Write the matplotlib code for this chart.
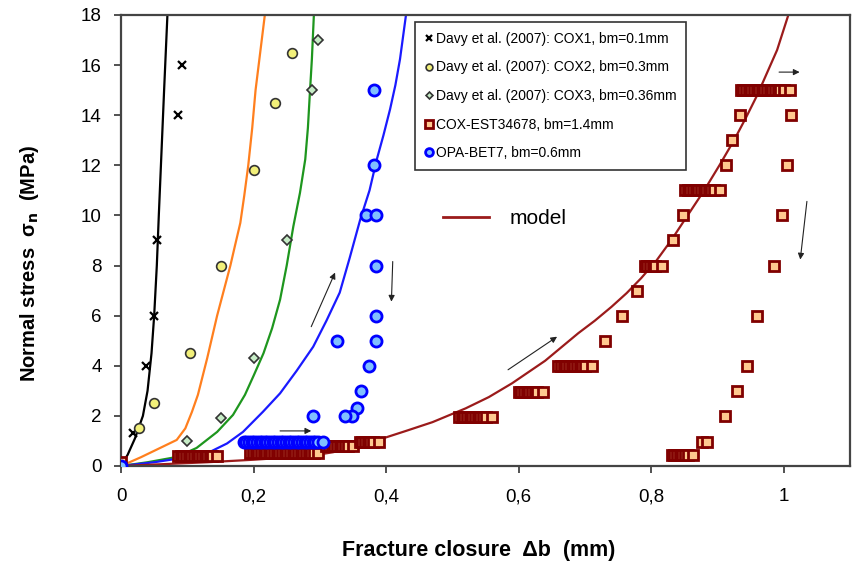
import matplotlib.pyplot as plt
from matplotlib.lines import Line2D

plt.rcParams['font.family'] = ['Liberation Sans', 'DejaVu Sans']

# Davy et al. (2007) experimental points
cox1_x = [0.018, 0.038, 0.050, 0.054, 0.086, 0.092]
cox1_y = [1.3, 4.0, 6.0, 9.0, 14.0, 16.0]
cox2_x = [0.027, 0.050, 0.104, 0.151, 0.200, 0.232, 0.258]
cox2_y = [1.5, 2.5, 4.5, 8.0, 11.8, 14.5, 16.5]
cox3_x = [0.100, 0.151, 0.200, 0.250, 0.288, 0.297]
cox3_y = [1.0, 1.9, 4.3, 9.0, 15.0, 17.0]

# COX-EST34678 (loading with creep steps, then unloading)
est_x = [0.0,
         0.086, 0.090, 0.094, 0.098, 0.102, 0.106, 0.110, 0.114, 0.118, 0.122, 0.126, 0.130, 0.134, 0.138, 0.145,
         0.195, 0.199, 0.203, 0.207, 0.211, 0.215, 0.219, 0.223, 0.227, 0.231, 0.235, 0.239, 0.243, 0.247,
         0.251, 0.255, 0.259, 0.263, 0.267, 0.271, 0.275, 0.279, 0.283, 0.287, 0.291, 0.297,
         0.310, 0.314, 0.318, 0.322, 0.326, 0.330, 0.334, 0.338, 0.342, 0.350,
         0.360, 0.364, 0.368, 0.372, 0.376, 0.380, 0.390,
         0.510, 0.514, 0.518, 0.522, 0.526, 0.530, 0.534, 0.538, 0.542, 0.546, 0.550, 0.560,
         0.600, 0.604, 0.608, 0.612, 0.616, 0.620, 0.624, 0.628, 0.637,
         0.660, 0.664, 0.668, 0.672, 0.676, 0.680, 0.684, 0.688, 0.692, 0.696, 0.700, 0.710,
         0.730, 0.756, 0.779,
         0.790, 0.794, 0.798, 0.802, 0.806, 0.817,
         0.833, 0.848,
         0.851, 0.855, 0.859, 0.863, 0.867, 0.871, 0.875, 0.879, 0.883, 0.887, 0.891, 0.895, 0.904,
         0.913, 0.922, 0.934,
         0.935, 0.939, 0.943, 0.947, 0.951, 0.955, 0.959, 0.963, 0.967, 0.971, 0.975, 0.979,
         0.983, 0.987, 0.991, 0.995, 1.000, 1.010,
         1.011, 1.005, 0.998, 0.986, 0.960, 0.945, 0.930, 0.911,
         0.877, 0.884,
         0.831, 0.835, 0.839, 0.843, 0.847, 0.851, 0.855, 0.863]
est_y = [0.15] + [0.4] * 15 + [0.5] * 26 + [0.78] * 10 + [0.95] * 7 + [1.95] * 12 \
    + [2.95] * 9 + [4.0] * 12 + [5.0, 6.0, 7.0] + [8.0] * 6 + [9.0, 10.0] + [11.0] * 13 \
    + [12.0, 13.0, 14.0] + [15.0] * 18 + [14.0, 12.0, 10.0, 8.0, 6.0, 4.0, 3.0, 2.0] \
    + [0.95, 0.95] + [0.45] * 8

# OPA-BET7
opa_x = [0.0,
         0.185, 0.189, 0.193, 0.197, 0.201, 0.205, 0.209, 0.213, 0.217, 0.221, 0.225, 0.229, 0.233, 0.237,
         0.241, 0.245, 0.249, 0.253, 0.257, 0.261, 0.265, 0.269, 0.273, 0.277, 0.281, 0.285, 0.289, 0.293,
         0.297, 0.305,
         0.290, 0.326, 0.370, 0.382,
         0.382, 0.385, 0.385, 0.385, 0.385, 0.374, 0.362, 0.356, 0.348, 0.338]
opa_y = [0.0] + [0.95] * 30 + [2.0, 5.0, 10.0, 15.0,
                               12.0, 10.0, 8.0, 6.0, 5.0, 4.0, 3.0, 2.3, 2.0, 2.0]

# model curves
m1_x = [0.0, 0.010, 0.021, 0.033, 0.040, 0.046, 0.050, 0.054, 0.057, 0.061, 0.065, 0.070]
m1_y = [0.0, 0.45, 1.1, 2.0, 3.0, 4.5, 6.0, 8.0, 10.0, 12.5, 15.0, 18.0]
m2_x = [0.0, 0.030, 0.059, 0.084, 0.097, 0.107, 0.116, 0.130, 0.145, 0.155, 0.165, 0.172,
        0.180, 0.186, 0.192, 0.198, 0.203, 0.210, 0.217]
m2_y = [0.0, 0.35, 0.72, 1.04, 1.5, 2.16, 2.84, 4.3, 6.0, 7.0, 8.0, 8.8,
        9.7, 10.8, 12.0, 13.5, 15.0, 16.5, 18.0]
m3_x = [0.0, 0.040, 0.084, 0.114, 0.145, 0.169, 0.187, 0.200, 0.215, 0.228, 0.240, 0.250,
        0.260, 0.270, 0.278, 0.282, 0.285, 0.288, 0.291]
m3_y = [0.0, 0.15, 0.36, 0.72, 1.36, 2.04, 2.84, 3.6, 4.5, 5.5, 6.64, 8.0,
        9.56, 10.9, 12.24, 13.5, 14.9, 16.24, 18.0]
m4_x = [0.0, 0.050, 0.100, 0.134, 0.160, 0.184, 0.214, 0.240, 0.265, 0.290, 0.310, 0.330,
        0.345, 0.361, 0.375, 0.386, 0.396, 0.406, 0.414, 0.421, 0.430]
m4_y = [0.0, 0.15, 0.35, 0.56, 0.9, 1.36, 2.16, 2.9, 3.8, 4.76, 5.8, 6.92,
        8.3, 9.84, 11.0, 12.24, 13.2, 14.24, 15.2, 16.24, 18.0]
m5_x = [0.0, 0.130, 0.200, 0.285, 0.320, 0.350, 0.395, 0.430, 0.470, 0.520, 0.555, 0.590,
        0.615, 0.640, 0.665, 0.690, 0.715, 0.740, 0.763, 0.785, 0.808, 0.830, 0.855,
        0.880, 0.903, 0.925, 0.943, 0.960, 0.975, 0.990, 1.007]
m5_y = [0.0, 0.15, 0.25, 0.4, 0.55, 0.75, 1.1, 1.4, 1.75, 2.3, 2.75, 3.3,
        3.75, 4.2, 4.75, 5.3, 5.8, 6.35, 6.9, 7.5, 8.2, 9.0, 10.0,
        11.0, 12.0, 13.0, 13.9, 14.8, 15.7, 16.6, 18.0]

# arrows (start, end) in data units
arrows = [((0.240, 1.4), (0.287, 1.4)),
          ((0.287, 5.56), (0.323, 7.72)),
          ((0.410, 8.16), (0.408, 6.56)),
          ((0.584, 3.84), (0.658, 5.16)),
          ((0.993, 15.72), (1.024, 15.72)),
          ((1.035, 10.56), (1.025, 8.24))]

fig = plt.figure(figsize=(8.59, 5.63), dpi=100)
ax = fig.add_axes([0.1409, 0.1723, 0.8486, 0.8011])

ax.plot(m1_x, m1_y, color='black', lw=1.6, zorder=2)
ax.plot(m2_x, m2_y, color='#ff7f1e', lw=1.6, zorder=2)
ax.plot(m3_x, m3_y, color='#1e961e', lw=1.6, zorder=2)
ax.plot(m4_x, m4_y, color='#1a1aff', lw=1.6, zorder=2)
ax.plot(m5_x, m5_y, color='#9b1b1b', lw=1.6, zorder=2)

ax.plot(cox1_x, cox1_y, 'x', color='black', ms=6, mew=1.6, zorder=3,
        label='Davy et al. (2007): COX1, bm=0.1mm')
ax.plot(cox2_x, cox2_y, 'o', mfc='#f2f07a', mec='#333333', ms=7, mew=1.2, zorder=3,
        label='Davy et al. (2007): COX2, bm=0.3mm')
ax.plot(cox3_x, cox3_y, 'D', mfc='#c6ecc6', mec='#333333', ms=5, mew=1.2, zorder=3,
        label='Davy et al. (2007): COX3, bm=0.36mm')
ax.plot(est_x, est_y, 's', mfc='#ffc990', mec='#800000', ms=7.5, mew=2.0, zorder=4,
        label='COX-EST34678, bm=1.4mm')
ax.plot(opa_x, opa_y, 'o', mfc='#80c0ff', mec='#0000ff', ms=8, mew=2.0, zorder=5,
        label='OPA-BET7, bm=0.6mm')

for (x0, y0), (x1, y1) in arrows:
    ax.annotate('', xy=(x1, y1), xytext=(x0, y0),
                arrowprops=dict(arrowstyle='-|>', color='#222222', lw=0.8,
                                mutation_scale=9, shrinkA=0, shrinkB=0))

ax.set_xlim(0, 1.1)
ax.set_ylim(0, 18)
ax.set_xticks([0, 0.2, 0.4, 0.6, 0.8, 1.0])
ax.set_xticklabels(['0', '0,2', '0,4', '0,6', '0,8', '1'])
ax.set_yticks(range(0, 19, 2))
ax.tick_params(direction='out', length=5, width=1.2, labelsize=13.5, pad=9, color='#333333')
ax.tick_params(axis='x', pad=11)
for sp in ax.spines.values():
    sp.set_linewidth(1.6)
    sp.set_color('#444444')

ax.set_xlabel('Fracture closure  \u0394b  (mm)', fontsize=15.5, fontweight='bold')
ax.xaxis.set_label_coords(0.49, -0.163)
ax.set_ylabel('Normal stress  \u03c3$_\\mathbf{n}$  (MPa)', fontsize=14.5, fontweight='bold')
ax.yaxis.set_label_coords(-0.11, 0.45)

leg = ax.legend(loc='upper left', bbox_to_anchor=(0.403, 0.984), borderaxespad=0,
                fontsize=10, labelspacing=1.05, handlelength=0.6, handletextpad=0.2,
                markerscale=0.7, fancybox=False, edgecolor='#333333', framealpha=1,
                borderpad=0.7)
leg.get_frame().set_linewidth(1.2)
ax.add_artist(leg)

model_handle = Line2D([], [], color='#9b1b1b', lw=2)
ax.legend([model_handle], ['model'], loc='center left', bbox_to_anchor=(0.43, 0.548),
          frameon=False, fontsize=15, handlelength=2.2, handletextpad=1.0, borderaxespad=0)

fig.savefig('out.png', dpi=100)
